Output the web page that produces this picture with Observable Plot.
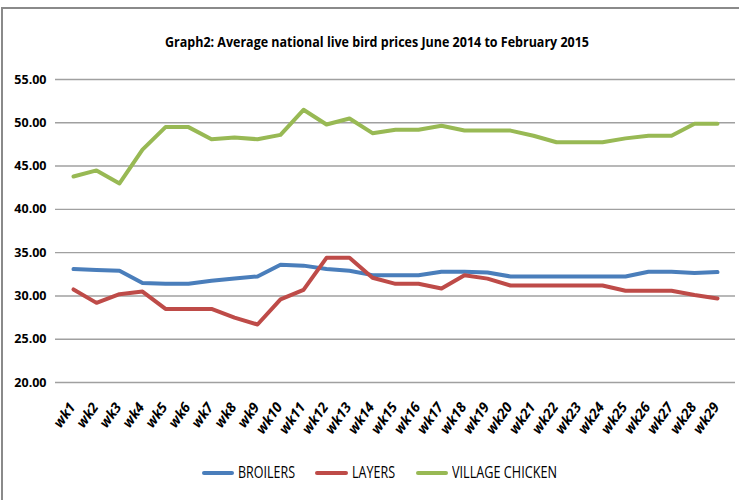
<!DOCTYPE html>
<html>
<head>
<meta charset="utf-8">
<script src="https://cdn.jsdelivr.net/npm/d3@7"></script>
<script src="https://cdn.jsdelivr.net/npm/@observablehq/plot@0.6"></script>
<style>
  html, body { margin: 0; padding: 0; background: #fff; }
  #wrap { position: relative; width: 739px; height: 500px; overflow: hidden; background: #fff; }
  #frame { position: absolute; left: 1px; top: 7px; width: 760px; height: 520px; border: 2px solid #8a8a8a; box-sizing: border-box; }
  #chart { position: absolute; left: 0; top: 0; }
  .fit { position: absolute; white-space: nowrap; transform-origin: 0 0; font-family: "Open Sans", sans-serif; color: #000; }
  #title { font-weight: bold; font-size: 15px; }
  .leg { font-size: 17px; }
  .sw { position: absolute; height: 4px; border-radius: 2px; }
</style>
</head>
<body>
<div id="wrap">
  <div id="frame"></div>
  <div id="chart"></div>
  <div id="title" class="fit">Graph2: Average national live bird prices June 2014 to February 2015</div>
  <div id="legend"></div>
</div>
<script>
const weeks = ["wk1","wk2","wk3","wk4","wk5","wk6","wk7","wk8","wk9","wk10","wk11","wk12","wk13","wk14","wk15","wk16","wk17","wk18","wk19","wk20","wk21","wk22","wk23","wk24","wk25","wk26","wk27","wk28","wk29"];
const broilers = [33.1,33.0,32.9,31.5,31.4,31.4,31.75,32.0,32.25,33.6,33.5,33.1,32.9,32.4,32.4,32.4,32.8,32.8,32.7,32.25,32.25,32.25,32.25,32.25,32.25,32.8,32.8,32.65,32.75];
const layers = [30.75,29.2,30.2,30.5,28.5,28.5,28.5,27.5,26.7,29.6,30.7,34.4,34.4,32.1,31.4,31.4,30.85,32.4,32.0,31.2,31.2,31.2,31.2,31.2,30.6,30.6,30.6,30.1,29.7];
const village = [43.8,44.5,43.0,46.9,49.5,49.5,48.1,48.3,48.1,48.6,51.5,49.8,50.5,48.8,49.2,49.2,49.65,49.1,49.1,49.1,48.5,47.75,47.75,47.75,48.2,48.5,48.5,49.9,49.9];
const seriesNames = ["BROILERS","LAYERS","VILLAGE CHICKEN"];
const seriesColors = ["#4a7ebb","#be4b48","#98b954"];
const yTicks = [20,25,30,35,40,45,50,55];

const rows = [];
[broilers, layers, village].forEach((vals, s) => {
  vals.forEach((v, i) => rows.push({week: weeks[i], value: v, series: seriesNames[s]}));
});

const chart = Plot.plot({
  width: 739,
  height: 500,
  marginLeft: 55,
  marginRight: 4,
  marginTop: 79,
  marginBottom: 118,
  style: {background: "transparent", fontFamily: "'Open Sans', sans-serif"},
  x: {type: "point", domain: weeks, padding: 0.5},
  y: {domain: [20, 55]},
  color: {domain: seriesNames, range: seriesColors},
  marks: [
    Plot.gridY(yTicks, {stroke: "#a0a0a0", strokeOpacity: 1, strokeWidth: 1.4}),
    Plot.axisY(yTicks, {tickSize: 0, tickPadding: 9, tickFormat: d3.format(".2f"), fontSize: 12.5, fontWeight: "bold", fill: "#000", label: null}),
    Plot.axisX({tickSize: 0, tickRotate: -54, tickPadding: 22, dx: -1, fontSize: 14, fontWeight: "bold", fontStyle: "italic", fill: "#000", label: null}),
    Plot.line(rows, {x: "week", y: "value", z: "series", stroke: "series", strokeWidth: 4})
  ]
});
document.getElementById("chart").appendChild(chart);

function fit(el, left, top, width) {
  el.style.left = left + "px";
  el.style.top = top + "px";
  const w = el.getBoundingClientRect().width;
  el.style.transform = `scaleX(${width / w})`;
}
fit(document.getElementById("title"), 165, 31, 424);

const legend = document.getElementById("legend");
const legLines = [[202, 234], [315, 348], [416, 448]];
const legText = [[238, 57], [352, 43], [452, 105]];
seriesNames.forEach((name, i) => {
  const sw = document.createElement("div");
  sw.className = "sw";
  sw.style.left = legLines[i][0] + "px";
  sw.style.width = (legLines[i][1] - legLines[i][0]) + "px";
  sw.style.top = "471px";
  sw.style.background = seriesColors[i];
  legend.appendChild(sw);
  const t = document.createElement("div");
  t.className = "fit leg";
  t.textContent = name;
  legend.appendChild(t);
  fit(t, legText[i][0], 460, legText[i][1]);
});
</script>
</body>
</html>
